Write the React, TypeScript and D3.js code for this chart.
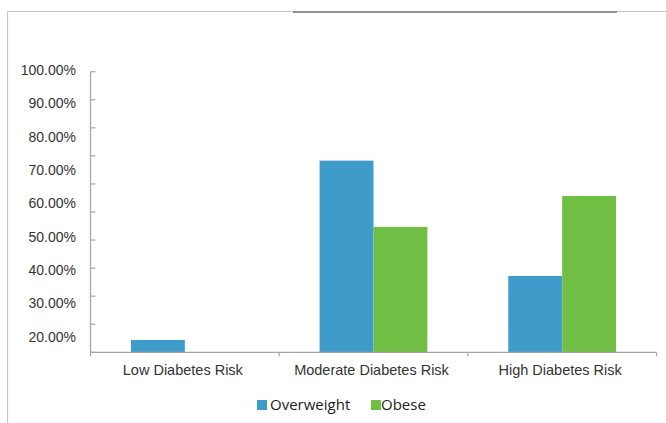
import React from "react";
import * as d3 from "d3";

const categories = ["Low Diabetes Risk", "Moderate Diabetes Risk", "High Diabetes Risk"];
const seriesNames = ["Overweight", "Obese"];
const overweight = [4.4, 68.3, 27.2];
const obese = [0, 44.7, 55.7];
const yTickValues = [0, 10, 20, 30, 40, 50, 60, 70, 80, 90, 100];
const yLabels = ["100.00%", "90.00%", "80.00%", "70.00%", "60.00%", "50.00%", "40.00%", "30.00%", "20.00%"];
const colors = ["#3F9BCA", "#70BF44"];

const W = 666;
const H = 423;
const plot = { left: 90.5, right: 656.5, top: 71.7, bottom: 352.3 };

export default function App() {
  const x = d3.scaleBand<string>().domain(categories).range([plot.left, plot.right]).paddingInner(0).paddingOuter(0);
  const y = d3.scaleLinear().domain([0, 100]).range([plot.bottom, plot.top]);
  const labelY = d3.scalePoint<string>().domain(yLabels).range([70, 336.7]);
  const bw = x.bandwidth();
  const barW = bw * 0.2857;
  const sub = d3.scaleBand<string>().domain(seriesNames).range([bw / 2 - barW, bw / 2 + barW]);
  const series = [overweight, obese];
  const axisColor = "#A6A6A6";
  const boundaries = [...categories.map((c) => x(c)!), plot.right];

  const legend = [
    { name: seriesNames[0], sx: 257, tx: 270, color: colors[0] },
    { name: seriesNames[1], sx: 371, tx: 381, color: colors[1] },
  ];

  return (
    <svg width={W} height={H} style={{ position: "fixed", left: 0, top: 0, background: "#fff" }}>
      {/* frame */}
      <line x1={7.5} y1={11.5} x2={666} y2={11.5} stroke="#C4C4C4" strokeWidth={1.2} />
      <line x1={7.5} y1={11.5} x2={7.5} y2={H} stroke="#C4C4C4" strokeWidth={1.2} />
      <line x1={293} y1={12} x2={617} y2={12} stroke="#929292" strokeWidth={1.8} />

      {/* bars */}
      {series.map((vals, si) =>
        categories.map((c, ci) =>
          vals[ci] > 0 ? (
            <rect
              key={`${si}-${ci}`}
              x={x(c)! + sub(seriesNames[si])!}
              y={y(vals[ci])}
              width={sub.bandwidth()}
              height={y(0) - y(vals[ci])}
              fill={colors[si]}
            />
          ) : null
        )
      )}

      {/* y axis */}
      <line x1={plot.left} y1={plot.top} x2={plot.left} y2={plot.bottom} stroke={axisColor} strokeWidth={1.3} />
      {yTickValues.map((t) => (
        <line key={t} x1={plot.left} x2={plot.left + 5} y1={y(t)} y2={y(t)} stroke={axisColor} strokeWidth={1.2} />
      ))}
      {yLabels.map((l) => (
        <text
          key={l}
          x={76}
          y={labelY(l)}
          dy="0.35em"
          textAnchor="end"
          fontFamily="'Liberation Sans', Arial, sans-serif"
          fontSize={14}
          fill="#333"
        >
          {l}
        </text>
      ))}

      {/* x axis */}
      <line x1={plot.left} y1={plot.bottom} x2={plot.right} y2={plot.bottom} stroke={axisColor} strokeWidth={1.3} />
      {boundaries.map((b, i) => (
        <line key={i} x1={b} x2={b} y1={plot.bottom} y2={plot.bottom + 4} stroke={axisColor} strokeWidth={1.2} />
      ))}
      {categories.map((c) => (
        <text
          key={c}
          x={x(c)! + bw / 2 - 2}
          y={370}
          dy="0.35em"
          textAnchor="middle"
          fontFamily="'Liberation Sans', Arial, sans-serif"
          fontSize={14.5}
          fill="#333"
        >
          {c}
        </text>
      ))}

      {/* legend */}
      {legend.map((l) => (
        <g key={l.name}>
          <rect x={l.sx} y={400} width={10} height={10} fill={l.color} />
          <text x={l.tx} y={405} dy="0.35em" fontFamily="'Open Sans', sans-serif" fontSize={15} fill="#222">
            {l.name}
          </text>
        </g>
      ))}
    </svg>
  );
}
